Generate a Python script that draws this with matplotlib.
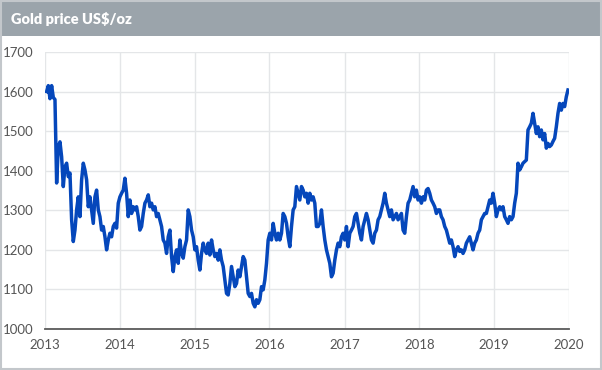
import matplotlib
matplotlib.use("Agg")
import matplotlib.pyplot as plt
import matplotlib.dates as mdates
import numpy as np
import pandas as pd

# gold price at even spacing (2013 -> end 2019)
prices_2013_2015 = [
    1600, 1615, 1582, 1615, 1585, 1580, 1369, 1461, 1473, 1435, 1360, 1410, 1419, 1385, 1394,
    1276, 1221, 1250, 1301, 1334, 1284, 1377, 1419, 1402, 1377, 1309, 1334, 1301, 1267, 1334,
    1351, 1301, 1284, 1250, 1259, 1233, 1200, 1225, 1242, 1233, 1259, 1267, 1255, 1318, 1334,
    1343, 1351, 1381, 1343, 1284, 1326, 1292, 1309, 1301, 1309, 1284, 1250, 1259, 1292, 1318,
    1326, 1339, 1309, 1318, 1301, 1309, 1284, 1292, 1276, 1259, 1225, 1217, 1191, 1233, 1250,
    1183, 1145, 1183, 1200, 1166, 1225, 1191, 1179, 1208, 1225, 1301, 1284, 1250, 1233, 1200,
    1208, 1174, 1149, 1191, 1217, 1200, 1191, 1217, 1187, 1225, 1200, 1183, 1191, 1174, 1200,
    1174, 1158, 1124, 1090, 1086,
]
prices_2015_2018 = [
    1115, 1158, 1132, 1107, 1115, 1149, 1132, 1158, 1183, 1174, 1132, 1090, 1082, 1090, 1065,
    1056, 1074, 1065, 1074, 1107, 1099, 1124, 1166, 1225, 1242, 1225, 1267, 1242, 1225, 1242,
    1225, 1242, 1292, 1284, 1267, 1233, 1208, 1259, 1301, 1309, 1360, 1343, 1326, 1360, 1351,
    1334, 1343, 1318, 1343, 1326, 1334, 1318, 1259, 1259, 1267, 1301, 1259, 1225, 1200, 1183,
    1166, 1132, 1141, 1174, 1200, 1217, 1208, 1233, 1242, 1225, 1259, 1208, 1242, 1250, 1259,
    1284, 1292, 1267, 1242, 1225, 1259, 1276, 1292, 1276, 1250, 1225, 1217, 1242, 1250, 1276,
    1284, 1301, 1318, 1343, 1318, 1301, 1284, 1301, 1276, 1284, 1292, 1276, 1284, 1292, 1250,
    1242, 1284, 1318, 1326, 1343, 1360, 1334, 1351, 1326,
]
prices_2018_2019 = [
    1334, 1318, 1334, 1326, 1351, 1355, 1343, 1326, 1318, 1309, 1292, 1301, 1301, 1284, 1276,
    1259, 1250, 1233, 1217, 1225, 1208, 1183, 1200, 1208, 1196, 1200, 1191, 1200, 1217, 1225,
    1233, 1217, 1200, 1217, 1225, 1242, 1250, 1276, 1284, 1292, 1292, 1309, 1326, 1318, 1343,
    1318, 1284, 1301, 1309, 1301, 1309, 1284, 1276, 1267, 1284, 1276, 1284, 1318, 1343, 1419,
    1402, 1410, 1419, 1423, 1427, 1503, 1511, 1520, 1545, 1520, 1494, 1511, 1486, 1503, 1478,
    1494, 1457, 1469, 1461, 1465, 1474, 1482, 1511, 1545, 1570, 1553, 1570, 1562, 1587, 1604,
]
prices = prices_2013_2015 + prices_2015_2018 + prices_2018_2019
dates = pd.date_range("2013-01-09", "2019-12-27", periods=len(prices))

title = "Gold price US$/oz"
y_ticks = list(range(1000, 1701, 100))
x_years = list(range(2013, 2021))

plt.rcParams["font.family"] = ["Lato", "DejaVu Sans"]

fig = plt.figure(figsize=(6.02, 3.70), dpi=100)

# header band and frame
fig.patches.append(plt.Rectangle((0, 1 - 36 / 370), 1, 36 / 370, transform=fig.transFigure,
                                 facecolor="#9ba4ab", edgecolor="none", zorder=0))
fig.patches.append(plt.Rectangle((0.5 / 602, 1.5 / 370), 1 - 2 / 602, 1 - 2 / 370,
                                 transform=fig.transFigure, facecolor="none",
                                 edgecolor="#c3c7cb", linewidth=1.5, zorder=1))
fig.text(11 / 602, 1 - 19 / 370, title, color="white", fontsize=10.5, fontweight="heavy",
         ha="left", va="center")

ax = fig.add_axes([45 / 602, 1 - 329 / 370, 524 / 602, 277 / 370])
ax.plot(dates, prices, color="#0547bb", linewidth=2.5, solid_joinstyle="round")

ax.set_ylim(1000, 1700)
ax.set_yticks(y_ticks)
ax.set_xlim(pd.Timestamp("2013-01-01"), pd.Timestamp("2020-01-01"))
ax.set_xticks([pd.Timestamp(f"{y}-01-01") for y in x_years])
ax.xaxis.set_major_formatter(mdates.DateFormatter("%Y"))

ax.grid(True, color="#e4e6e8", linewidth=1)
ax.set_axisbelow(True)
for side in ("left", "right", "top"):
    ax.spines[side].set_visible(False)
ax.spines["bottom"].set_color("#5a5a5a")
ax.spines["bottom"].set_linewidth(1.3)
ax.tick_params(axis="both", length=0, labelsize=9.5, labelcolor="#555555")
ax.tick_params(axis="y", pad=8.5)
ax.tick_params(axis="x", pad=7)

fig.savefig("out.png", dpi=100)
plt.close(fig)
